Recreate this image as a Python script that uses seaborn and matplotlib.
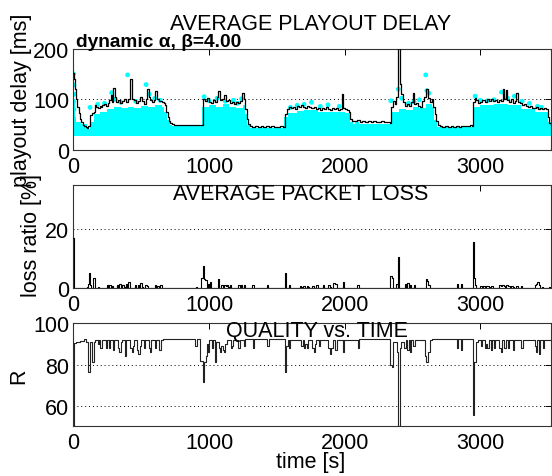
import matplotlib
matplotlib.use("Agg")
import matplotlib.pyplot as plt
import seaborn as sns

# ---------------- data ----------------
# average playout delay (black step line): (time [s], delay [ms])
delay_points = [
    (0, 152), (8, 140), (15, 120), (22, 100), (30, 85), (40, 72), (50, 62), (60, 55), (70, 50),
    (80, 47), (90, 45), (100, 44), (110, 47), (120, 68), (135, 72), (150, 75), (160, 88),
    (170, 85), (185, 82), (195, 86), (205, 84), (215, 88), (225, 90), (240, 86), (255, 93),
    (265, 98), (275, 108), (285, 95), (295, 123), (305, 105), (315, 95), (330, 98), (345, 92),
    (360, 96), (375, 100), (390, 95), (405, 100), (420, 139), (430, 100), (445, 98), (460, 92),
    (475, 96), (490, 104), (505, 96), (520, 91), (535, 100), (545, 120), (555, 105), (565, 98),
    (580, 94), (595, 98), (605, 116), (620, 100), (635, 97), (650, 95), (665, 93), (675, 88),
    (685, 75), (695, 65), (705, 58), (715, 54), (725, 51), (740, 50), (760, 50), (800, 50),
    (840, 49), (880, 50), (920, 50), (945, 49),
    (957, 100), (970, 97), (985, 103), (1000, 95), (1015, 92), (1030, 98), (1045, 94),
    (1060, 105), (1068, 116), (1080, 98), (1095, 100), (1110, 108), (1125, 96), (1140, 99),
    (1155, 93), (1170, 95), (1185, 90), (1200, 94), (1215, 92), (1230, 97), (1245, 113),
    (1258, 100), (1268, 80), (1278, 62), (1288, 52), (1300, 47), (1320, 46), (1340, 48),
    (1360, 46), (1380, 47), (1400, 45), (1420, 47), (1440, 46), (1460, 48), (1480, 46),
    (1500, 45), (1520, 47), (1546, 46),
    (1560, 70), (1575, 80), (1590, 85), (1605, 82), (1620, 84), (1635, 80), (1650, 86),
    (1665, 84), (1680, 88), (1695, 85), (1710, 83), (1725, 87), (1740, 85), (1755, 82),
    (1770, 84), (1785, 81), (1800, 83), (1815, 79), (1830, 82), (1845, 80), (1860, 84),
    (1875, 81), (1890, 78), (1905, 83), (1920, 80), (1935, 82), (1950, 79), (1965, 80),
    (1978, 110), (1988, 82), (2000, 80), (2015, 79), (2030, 75), (2042, 62), (2055, 58),
    (2070, 57), (2090, 59), (2110, 56), (2130, 58), (2150, 55), (2170, 57), (2190, 56),
    (2210, 58), (2230, 55), (2250, 56), (2270, 57), (2290, 55), (2310, 56), (2330, 54),
    (2342, 85), (2355, 97), (2370, 90), (2381, 105), (2389, 260), (2409, 130), (2418, 110),
    (2430, 95), (2443, 87), (2460, 90), (2475, 86), (2490, 95), (2502, 113), (2512, 90),
    (2525, 92), (2540, 87), (2555, 85), (2570, 96), (2585, 105), (2597, 120), (2610, 103),
    (2625, 95), (2640, 100), (2652, 85), (2662, 70), (2672, 58), (2685, 50), (2700, 47),
    (2720, 46), (2740, 48), (2760, 45), (2780, 47), (2800, 46), (2820, 48), (2840, 46),
    (2860, 47), (2880, 48), (2900, 47), (2920, 49), (2935, 48),
    (2945, 95), (2958, 102), (2970, 98), (2985, 92), (3000, 95), (3015, 99), (3030, 94),
    (3045, 100), (3060, 97), (3075, 101), (3090, 96), (3105, 99), (3120, 94), (3135, 98),
    (3150, 96), (3163, 120), (3175, 100), (3188, 118), (3198, 98), (3210, 95), (3225, 100),
    (3240, 92), (3255, 96), (3265, 113), (3278, 95), (3290, 92), (3305, 88), (3320, 90),
    (3335, 86), (3350, 85), (3365, 87), (3380, 83), (3395, 82), (3410, 84), (3425, 81),
    (3440, 82), (3455, 80), (3470, 82), (3485, 81), (3497, 65), (3508, 53), (3520, 50)]

# upper edge of the dense cloud of per-packet delays (cyan)
cloud_points = [
    (0, 130), (6, 100), (12, 65), (20, 55), (60, 52), (100, 42), (120, 55), (150, 70),
    (200, 75), (250, 80), (300, 85), (350, 82), (400, 85), (450, 83), (500, 86), (550, 85),
    (600, 88), (650, 85), (670, 75), (690, 60), (710, 50), (730, 47), (945, 47), (950, 85),
    (1000, 88), (1050, 85), (1100, 90), (1150, 85), (1200, 82), (1250, 88), (1265, 70),
    (1280, 50), (1300, 44), (1545, 44), (1555, 65), (1580, 72), (1650, 76), (1700, 78),
    (1800, 74), (1900, 74), (2000, 73), (2040, 55), (2060, 52), (2335, 52), (2345, 75),
    (2400, 80), (2450, 78), (2500, 85), (2550, 83), (2600, 90), (2640, 85), (2660, 60),
    (2680, 45), (2940, 45), (2950, 85), (3000, 88), (3100, 90), (3200, 88), (3300, 80),
    (3400, 75), (3480, 75), (3500, 55), (3520, 48)]
cloud_floor = 28

# isolated cyan packet-delay points above the cloud
dot_points = [
    (2, 150), (4, 128), (6, 110), (3, 95), (5, 80), (123, 84), (282, 113), (310, 100),
    (400, 148), (536, 129), (560, 110), (600, 102), (640, 98), (964, 105), (1000, 97),
    (1060, 102), (1180, 98), (1240, 101), (1650, 88), (1700, 90), (1755, 94), (1877, 89),
    (1960, 86), (2092, 51), (2340, 97), (2395, 120), (2420, 102), (2470, 92), (2550, 99),
    (2597, 148), (2605, 117), (2620, 112), (2961, 106), (3000, 98), (3155, 114), (3200, 102),
    (3250, 106), (3307, 96), (3360, 92), (3420, 86), (180, 90), (230, 92), (350, 94),
    (460, 96), (1120, 96), (1210, 92), (1600, 84), (1820, 86), (2510, 95), (3050, 97),
    (3100, 99), (3450, 84)]

# average packet loss ratio [%]
loss_points = [
    (0, 17), (8, 0), (98, 0.5), (105, 1.5), (114, 5.2), (122, 1), (128, 0), (147, 3.4),
    (160, 0), (182, 0.6), (188, 0), (245, 1), (255, 0), (265, 1), (275, 0), (285, 0.8),
    (295, 0), (320, 1), (330, 0), (340, 1.3), (350, 0), (360, 1), (370, 0.6), (385, 1.5),
    (393, 0), (405, 2.2), (417, 0), (455, 1), (465, 0), (475, 1.2), (485, 0), (495, 1.8),
    (505, 0.6), (515, 0), (525, 1.2), (540, 0.8), (552, 0), (600, 1), (610, 0), (620, 0.8),
    (630, 0), (640, 1), (652, 0), (905, 0.5), (911, 0), (938, 3.5), (957, 7.7), (964, 3.2),
    (970, 2.8), (982, 0), (990, 1.5), (1000, 0), (1006, 2.1), (1014, 0), (1066, 3), (1072, 0),
    (1092, 1), (1102, 0.6), (1112, 1), (1122, 0.8), (1132, 1.2), (1142, 0.5), (1152, 1),
    (1162, 0), (1215, 1), (1225, 0.6), (1235, 1.1), (1245, 0), (1255, 1), (1262, 0),
    (1320, 1), (1330, 0), (1430, 1), (1438, 0), (1562, 5.1), (1567, 0), (1586, 1), (1594, 0),
    (1670, 0.8), (1680, 0.6), (1690, 0.9), (1700, 0.7), (1710, 0), (1720, 0.8), (1730, 0.6),
    (1740, 0), (1760, 0.9), (1770, 0), (1790, 1.2), (1800, 0), (1840, 1), (1848, 0),
    (1880, 1), (1890, 0.6), (1900, 0), (1915, 1.8), (1928, 1.3), (1940, 0), (1986, 2.3),
    (1994, 0), (2094, 1), (2102, 0), (2337, 4.1), (2347, 3.5), (2357, 0), (2380, 1.5),
    (2390, 0), (2396, 10.7), (2402, 0), (2445, 1.5), (2452, 0), (2460, 1.8), (2470, 0),
    (2478, 1.2), (2486, 0), (2512, 1), (2520, 0), (2596, 3), (2606, 2.6), (2616, 1.2),
    (2630, 0), (2825, 1.6), (2835, 0), (2855, 1.6), (2865, 0), (2944, 15.8), (2950, 3.5),
    (2958, 1), (2966, 0), (3000, 0.8), (3010, 0.5), (3020, 0.7), (3030, 0.6), (3040, 0.8),
    (3050, 0.7), (3060, 0), (3070, 0.6), (3080, 0.9), (3090, 0), (3140, 1), (3150, 0.8),
    (3160, 1.2), (3170, 0.9), (3180, 0), (3190, 1.1), (3200, 0.7), (3215, 0), (3225, 0.9),
    (3240, 0.6), (3250, 0), (3265, 0.8), (3275, 0), (3300, 0.7), (3307, 0), (3400, 1),
    (3410, 1.6), (3420, 2), (3432, 1.2), (3442, 0), (3450, 0.6), (3458, 0), (3508, 0.6),
    (3514, 0)]

# quality (R factor) over time
r_points = [
    (0, 50), (3, 90.5), (20, 91), (50, 91.5), (80, 92.5), (95, 91), (105, 88), (112, 76.5),
    (120, 91), (140, 81), (152, 91), (160, 92), (182, 90), (190, 92), (200, 88), (208, 92),
    (240, 88), (250, 92), (262, 88), (270, 92), (290, 87), (300, 92), (330, 88), (340, 86),
    (350, 91), (360, 92), (380, 84), (388, 92), (420, 88), (430, 86), (440, 89), (450, 92),
    (470, 87), (480, 85), (490, 89), (500, 92), (520, 88), (530, 92), (555, 88), (565, 86),
    (575, 92), (600, 88), (612, 92), (630, 87), (645, 92), (660, 92.5), (900, 89),
    (908, 92.5), (930, 81.5), (955, 71.5), (965, 81), (975, 84), (985, 90), (992, 86),
    (1000, 92), (1020, 88), (1030, 92), (1045, 81), (1055, 91), (1070, 88), (1080, 86),
    (1090, 89), (1100, 87), (1110, 86), (1120, 90), (1130, 92), (1160, 88), (1170, 89),
    (1180, 92), (1215, 88), (1225, 92), (1255, 89), (1265, 92.5), (1325, 88), (1335, 92.5),
    (1430, 89), (1440, 92.5), (1562, 76.5), (1570, 89), (1580, 92), (1590, 88), (1600, 92),
    (1680, 89), (1690, 92), (1700, 88), (1710, 90), (1720, 88), (1730, 92), (1760, 88),
    (1770, 86), (1780, 90), (1790, 92), (1810, 89), (1820, 92), (1880, 88), (1890, 85),
    (1900, 88), (1910, 92), (1930, 87), (1945, 92), (1985, 86), (1995, 92), (2095, 88),
    (2105, 92.5), (2335, 80), (2345, 79), (2358, 91), (2385, 86), (2396, 50), (2406, 88),
    (2415, 91), (2440, 88), (2450, 92), (2460, 87), (2470, 92), (2480, 86), (2490, 92),
    (2505, 89), (2515, 92), (2590, 84), (2600, 81), (2615, 86), (2630, 92), (2645, 92.5),
    (2825, 88), (2835, 92.5), (2855, 87), (2865, 92.5), (2946, 55.6), (2956, 81), (2966, 91),
    (2980, 92), (3005, 89), (3015, 92), (3030, 88), (3040, 90), (3050, 88), (3060, 92),
    (3075, 87), (3085, 92), (3100, 88), (3110, 92), (3140, 88), (3150, 86), (3160, 92),
    (3175, 88), (3185, 92), (3200, 88), (3210, 92), (3240, 87), (3250, 92), (3300, 88),
    (3310, 92), (3400, 89), (3410, 86), (3420, 92), (3430, 85), (3440, 92), (3460, 88),
    (3470, 92), (3520, 92)]

x_ticks = [0, 1000, 2000, 3000]
delay_ticks = [0, 100, 200]
loss_ticks = [0, 20]
r_ticks = [60, 80, 100]

delay_t, delay_v = map(list, zip(*delay_points))
cloud_t, cloud_v = map(list, zip(*cloud_points))
dots_t, dots_v = map(list, zip(*dot_points))
loss_t, loss_v = map(list, zip(*loss_points))
r_t, r_v = map(list, zip(*r_points))

# ---------------- figure ----------------
sns.set_theme(style="white")
plt.rcParams["font.family"] = ["Liberation Sans", "DejaVu Sans"]
plt.rcParams["axes.linewidth"] = 0.8
for key in ("text.color", "axes.labelcolor", "xtick.color", "ytick.color", "axes.edgecolor"):
    plt.rcParams[key] = "black"

W, H = 552, 477
fig = plt.figure(figsize=(W / 100, H / 100), dpi=100)
fig.patch.set_facecolor("white")


def box(l, t, r, b):
    return [l / W, 1 - b / H, (r - l) / W, (b - t) / H]


ax1 = fig.add_axes(box(73.3, 49.5, 551, 151))
ax2 = fig.add_axes(box(73.3, 186, 551, 289.3))
ax3 = fig.add_axes(box(73.3, 324.3, 551, 427.3))

FS = 15.5

# top: playout delay
ax1.fill_between(cloud_t, cloud_floor, cloud_v, step="post", color="#00ffff", lw=0, zorder=1)
sns.scatterplot(x=dots_t, y=dots_v, color="#00ffff", s=12, marker="o", edgecolor="none",
                ax=ax1, zorder=2, legend=False)
sns.lineplot(x=delay_t, y=delay_v, drawstyle="steps-post", color="black", lw=0.9,
             estimator=None, sort=False, ax=ax1, zorder=3)
ax1.set_ylim(0, 200)
ax1.set_yticks(delay_ticks)

# middle: loss
sns.lineplot(x=loss_t, y=loss_v, drawstyle="steps-post", color="black", lw=0.8,
             estimator=None, sort=False, ax=ax2, zorder=3)
ax2.set_ylim(0, 35)
ax2.set_yticks(loss_ticks)

# bottom: R
sns.lineplot(x=r_t, y=r_v, drawstyle="steps-post", color="#222222", lw=0.8,
             estimator=None, sort=False, ax=ax3, zorder=3)
ax3.set_ylim(50, 100)
ax3.set_yticks(r_ticks)

for ax in (ax1, ax2, ax3):
    ax.set_xlim(0, 3520)
    ax.set_xticks(x_ticks)
    ax.set_xlabel("")
    ax.set_ylabel("")
    ax.set_facecolor("white")
    ax.grid(False)
    ax.yaxis.grid(True, linestyle=(0, (1, 3)), color="black", lw=0.7)
    ax.set_axisbelow(True)
    ax.tick_params(direction="in", top=True, right=True, length=4, width=0.7,
                   labelsize=FS, colors="black", labelcolor="black", pad=4)
    ax.tick_params(axis="y", pad=3)
    for s in ax.spines.values():
        s.set_color("#333333")
        s.set_visible(True)

# texts
fig.text(311 / W, 1 - 24 / H, "AVERAGE PLAYOUT DELAY", ha="center", va="center",
         fontsize=FS, color="black")
fig.text(76 / W, 1 - 47.3 / H, "dynamic \u03b1, \u03b2=4.00", ha="left", va="baseline",
         fontsize=13.8, fontweight="bold", color="black")
fig.text(301 / W, 1 - 194.5 / H, "AVERAGE PACKET LOSS", ha="center", va="center",
         fontsize=FS, color="black")
fig.text(316.5 / W, 1 - 331 / H, "QUALITY vs. TIME", ha="center", va="center",
         fontsize=FS, color="black")

fig.text(22 / W, 1 - 100 / H, "playout delay [ms]", rotation=90, ha="center", va="center",
         fontsize=FS, color="black")
fig.text(31 / W, 1 - 236 / H, "loss ratio [%]", rotation=90, ha="center", va="center",
         fontsize=FS, color="black")
fig.text(19 / W, 1 - 376 / H, "R", rotation=90, ha="center", va="center", fontsize=FS,
         color="black")
fig.text(311 / W, 1 - 463 / H, "time [s]", ha="center", va="center", fontsize=FS,
         color="black")

fig.savefig("out.png", dpi=100, facecolor="white")
